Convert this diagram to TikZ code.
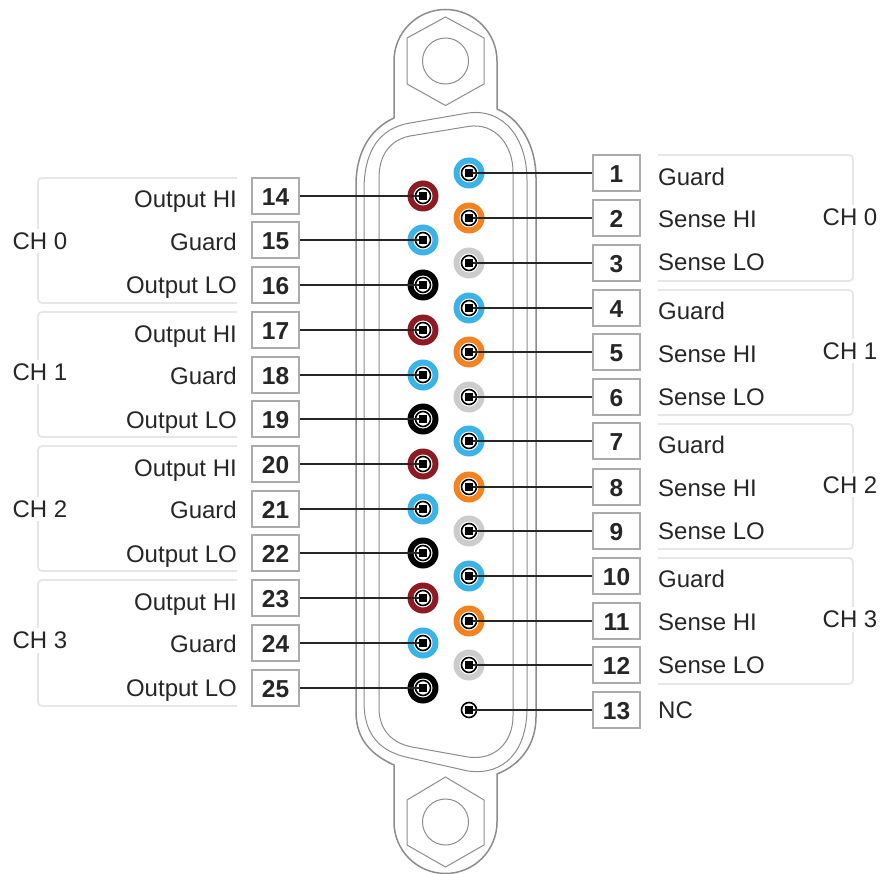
\documentclass[tikz,border=0pt]{standalone}
\usepackage{fontspec}
\setmainfont{Liberation Sans}
\definecolor{shellgray}{HTML}{8C8C8C}
\definecolor{groupgray}{HTML}{E6E6E6}
\definecolor{boxgray}{HTML}{ABABAB}
\definecolor{inkdark}{HTML}{262626}
\definecolor{guardblue}{HTML}{3BB3E6}
\definecolor{hiorange}{HTML}{F58220}
\definecolor{logray}{HTML}{CCCCCC}
\definecolor{outred}{HTML}{8E1B23}
\tikzset{
  numbox/.style={draw=boxgray,line width=1.6pt,fill=white,minimum width=47pt,minimum height=36pt,inner sep=0pt,text height=19.5pt,text depth=0pt,font=\fontsize{24.5}{24}\selectfont\bfseries,text=inkdark},
  sigtext/.style={inner sep=0pt,font=\fontsize{24}{24}\selectfont,text=inkdark},
  chtext/.style={sigtext,fill=white,inner ysep=4pt,inner xsep=1pt},
  groupline/.style={draw=groupgray,line width=1.8pt,rounded corners=4pt},
  shell/.style={draw=shellgray,line width=1.5pt},
  shellthin/.style={draw=shellgray,line width=1pt},
  wire/.style={draw=inkdark,line width=1.5pt},
  pinhole/.style={circle,fill=#1,minimum size=31pt,inner sep=0pt}
}
\begin{document}
\begin{tikzpicture}[x=1pt,y=-1pt]
\useasboundingbox (0,0) rectangle (880,874);
% outer shell with the two flanges
\draw[shell] (394,118) -- (394,61) arc[start angle=180,end angle=360,radius=51.5] -- (497,109)
  .. controls (520,119) and (536,145) .. (536,178) -- (536,717)
  .. controls (536,745) and (520,765) .. (497,774) -- (497,822) arc[start angle=0,end angle=180,radius=51.5] -- (394,765)
  .. controls (372,755) and (356,740) .. (356,712) -- (356,185)
  .. controls (356,150) and (372,128) .. (394,118) -- cycle;
% shell rims
\draw[shellthin] (364,190) .. controls (364,150) and (380,128) .. (410,123) -- (468,113)
  .. controls (505,108) and (527,140) .. (527,180) -- (527,708)
  .. controls (527,750) and (505,776) .. (468,771) -- (410,758)
  .. controls (380,752) and (364,735) .. (364,702) -- cycle;
\draw[shellthin] (379,178) .. controls (379,155) and (390,140) .. (410,136) -- (468,126.5)
  .. controls (495,122) and (513,145) .. (513,172) -- (513,716)
  .. controls (513,742) and (495,761) .. (468,757) -- (412,747)
  .. controls (392,743) and (379,730) .. (379,708) -- cycle;
% nuts
\draw[shellthin] (445.5,17) -- (484,38) -- (484,84) -- (445.5,105.5) -- (407,84) -- (407,38) -- cycle;
\draw[shellthin] (445.5,61) circle (23);
\draw[shellthin] (445.5,777) -- (484,800) -- (484,845) -- (445.5,867) -- (407,845) -- (407,800) -- cycle;
\draw[shellthin] (445.5,822) circle (23);
% channel groups
\foreach \ytop/\ybot in {178/303,312/437,446/571,580/706}{
  \draw[groupline] (237,\ytop) -- (38,\ytop) -- (38,\ybot) -- (237,\ybot);
}
\foreach \ytop/\ybot in {155/281,290/415,424/549,558/684}{
  \draw[groupline] (658,\ytop) -- (853,\ytop) -- (853,\ybot) -- (658,\ybot);
}
\foreach \yl/\num in {241/0,372/1,509/2,640/3}{
  \node[chtext] (chl\num) at (40,\yl) {CH \num};
}
\foreach \yl/\num in {217/0,351/1,485/2,619/3}{
  \node[chtext] (chr\num) at (850,\yl) {CH \num};
}
% right row of pins
\foreach \num/\yp/\col in {1/173/guardblue,2/218/hiorange,3/263/logray,4/308/guardblue,5/352/hiorange,6/397/logray,7/441/guardblue,8/487/hiorange,9/531/logray,10/576/guardblue,11/621/hiorange,12/665/logray,13/710/white}{
  \node[pinhole=\col] (pin\num) at (469,\yp) {};
  \node[circle,fill=white,minimum size=19pt,inner sep=0pt] at (pin\num) {};
  \node[circle,draw=black,line width=1.6pt,fill=white,minimum size=15pt,inner sep=0pt] at (pin\num) {};
  \node[numbox] (box\num) at (616.5,\yp) {\num};
  \draw[wire] (pin\num.center) -- (box\num);
  \node[fill=black,minimum size=7.5pt,inner sep=0pt] at (pin\num) {};
}
% left row of pins
\foreach \num/\yp/\col in {14/196/outred,15/240/guardblue,16/285/black,17/330/outred,18/375/guardblue,19/419/black,20/464/outred,21/509/guardblue,22/553/black,23/598/outred,24/643/guardblue,25/688/black}{
  \node[pinhole=\col] (pin\num) at (423,\yp) {};
  \node[circle,fill=white,minimum size=19pt,inner sep=0pt] at (pin\num) {};
  \node[circle,draw=black,line width=1.6pt,fill=white,minimum size=15pt,inner sep=0pt] at (pin\num) {};
  \node[numbox] (box\num) at (275.5,\yp) {\num};
  \draw[wire] (pin\num.center) -- (box\num);
  \node[fill=black,minimum size=7.5pt,inner sep=0pt] at (pin\num) {};
}
% signal names
\foreach \dy/\num in {0/0,134/1,268/2,402/3}{
  \node[sigtext,anchor=base east] (hil\num) at (237,208+\dy) {Output HI};
  \node[sigtext,anchor=base east] (gul\num) at (237,250.5+\dy) {Guard};
  \node[sigtext,anchor=base east] (lol\num) at (237,294+\dy) {Output LO};
  \node[sigtext,anchor=base west] (gur\num) at (658,185.5+\dy) {Guard};
  \node[sigtext,anchor=base west] (hir\num) at (658,228+\dy) {Sense HI};
  \node[sigtext,anchor=base west] (lor\num) at (658,271+\dy) {Sense LO};
}
\node[sigtext,anchor=base west] (ncname) at (658,718) {NC};
\end{tikzpicture}
\end{document}
